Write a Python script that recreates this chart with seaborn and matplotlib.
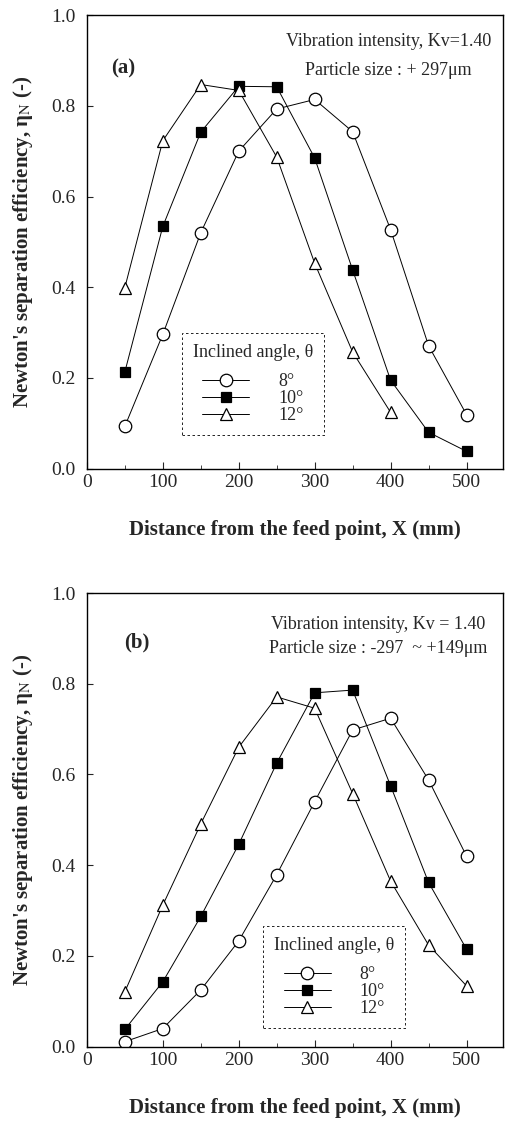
import numpy as np
import pandas as pd
import matplotlib
matplotlib.use("Agg")
import matplotlib.pyplot as plt
from matplotlib.ticker import MultipleLocator, FormatStrFormatter
import seaborn as sns

# distances along the screen (mm)
x_dist = [50, 100, 150, 200, 250, 300, 350, 400, 450, 500]

# panel (a): +297 um
a_8 = [0.093, 0.296, 0.520, 0.700, 0.793, 0.814, 0.743, 0.527, 0.271, 0.119]
a_10 = [0.213, 0.534, 0.742, 0.843, 0.842, 0.685, 0.438, 0.195, 0.080, 0.038]
a_12 = [0.399, 0.723, 0.847, 0.834, 0.687, 0.453, 0.257, 0.124]

# panel (b): -297 ~ +149 um
b_8 = [0.011, 0.040, 0.125, 0.233, 0.379, 0.540, 0.698, 0.724, 0.588, 0.420]
b_10 = [0.038, 0.143, 0.287, 0.446, 0.625, 0.780, 0.786, 0.575, 0.362, 0.215]
b_12 = [0.121, 0.312, 0.491, 0.660, 0.771, 0.746, 0.558, 0.365, 0.224, 0.134]

angles = ["8°", "10°", "12°"]
marker_style = {"8°": ("o", "white", 9.0), "10°": ("s", "black", 7.5), "12°": ("^", "white", 8.5)}

sns.set_style("ticks")
plt.rcParams["font.family"] = ["Liberation Serif", "DejaVu Serif"]
plt.rcParams["mathtext.fontset"] = "stix"


def make_frame(s8, s10, s12):
    rows = []
    for ang, vals in zip(angles, [s8, s10, s12]):
        for xv, yv in zip(x_dist, vals):
            rows.append({"X": xv, "eta": yv, "angle": ang})
    return pd.DataFrame(rows)


def draw_panel(ax, df, tag, line1, line2, text_x, y1, y2, tag_xy, leg_anchor):
    for ang in angles:
        sub = df[df["angle"] == ang]
        mk, fc, ms = marker_style[ang]
        sns.lineplot(data=sub, x="X", y="eta", ax=ax, color="black", lw=0.7,
                     marker=mk, markerfacecolor=fc, markeredgecolor="black",
                     markeredgewidth=0.9, ms=ms, label=ang)

    ax.set_xlim(0, 548)
    ax.set_ylim(0, 1.0)
    ax.xaxis.set_major_locator(MultipleLocator(100))
    ax.xaxis.set_minor_locator(MultipleLocator(50))
    ax.yaxis.set_major_locator(MultipleLocator(0.2))
    ax.yaxis.set_major_formatter(FormatStrFormatter("%.1f"))
    ax.tick_params(axis="both", which="both", direction="in", labelsize=14)
    ax.tick_params(axis="x", which="major", length=5, pad=4)
    ax.tick_params(axis="x", which="minor", length=3)
    ax.tick_params(axis="y", which="major", length=4, pad=8)
    for sp in ax.spines.values():
        sp.set_visible(True)
        sp.set_linewidth(1.0)
        sp.set_color("black")

    ax.set_xlabel("Distance from the feed point, X (mm)", fontsize=15,
                  fontweight="bold", labelpad=21)
    ax.set_ylabel(r"Newton's separation efficiency, η$_\mathrm{N}$ (-)", fontsize=15,
                  fontweight="bold", labelpad=12)

    ax.text(text_x, y1, line1, transform=ax.transAxes, ha="center", va="center", fontsize=13)
    ax.text(text_x, y2, line2, transform=ax.transAxes, ha="center", va="center", fontsize=13)
    ax.text(tag_xy[0], tag_xy[1], tag, transform=ax.transAxes, ha="center", va="center",
            fontsize=15, fontweight="bold")

    leg = ax.legend(title="Inclined angle, θ", loc="upper left", bbox_to_anchor=leg_anchor,
                    fontsize=13, title_fontsize=13, frameon=True, fancybox=False,
                    handlelength=2.6, handletextpad=1.6, labelspacing=0.0,
                    borderpad=0.6, borderaxespad=0)
    leg._legend_box.sep = 9
    fr = leg.get_frame()
    fr.set_edgecolor("black")
    fr.set_linestyle((0, (3, 3)))
    fr.set_linewidth(0.6)
    fr.set_alpha(1)


fig = plt.figure(figsize=(5.05, 11.21), dpi=100)
ax_a = fig.add_axes([0.172, 0.582, 0.824, 0.4045])
ax_b = fig.add_axes([0.172, 0.0663, 0.824, 0.4047])

df_a = make_frame(a_8, a_10, a_12 + [np.nan, np.nan]).dropna()
df_b = make_frame(b_8, b_10, b_12)

draw_panel(ax_a, df_a, "(a)", "Vibration intensity, Kv=1.40", "Particle size : + 297μm",
           0.724, 0.942, 0.878, (0.088, 0.882), (0.228, 0.299))
draw_panel(ax_b, df_b, "(b)", "Vibration intensity, Kv = 1.40", "Particle size : -297  ~ +149μm",
           0.70, 0.93, 0.877, (0.121, 0.89), (0.424, 0.266))

fig.savefig("out.png", dpi=100)
